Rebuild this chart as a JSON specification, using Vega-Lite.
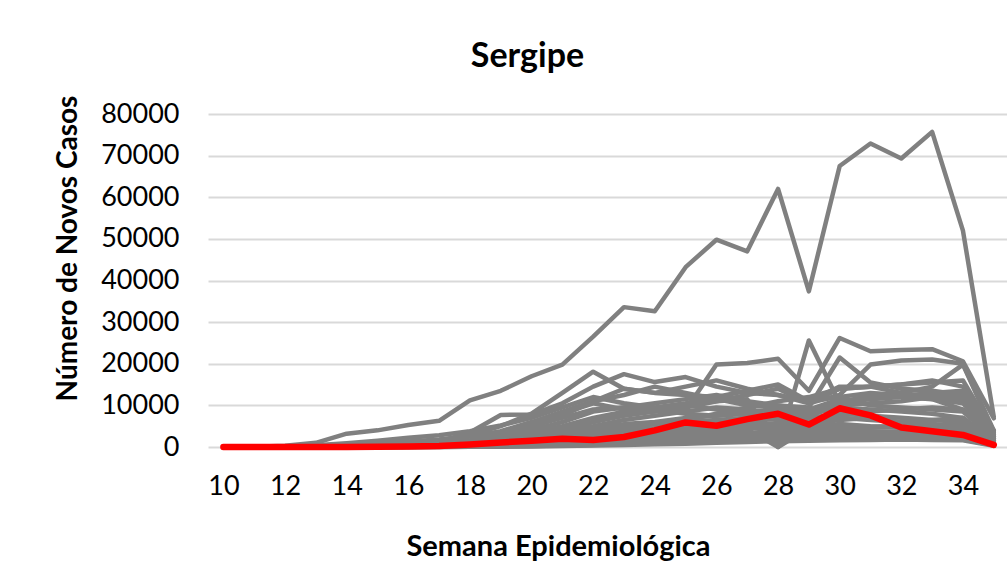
{
"$schema": "https://vega.github.io/schema/vega-lite/v6.json",
"width": 799, "height": 333,
"autosize": {"type": "none"},
"padding": {"left": 208, "top": 114, "right": 0, "bottom": 129},
"background": "white",
"config": {"view": {"stroke": null}, "font": "Lato"},
"title": {"text": "Sergipe", "fontSize": 34, "fontWeight": "bold", "font": "Lato", "color": "#000000", "dx": -80, "offset": 21, "anchor": "middle"},
"datasets": {"d": [
{"s":"g1","w":10,"v":0},{"s":"g1","w":11,"v":50},{"s":"g1","w":12,"v":300},{"s":"g1","w":13,"v":1000},{"s":"g1","w":14,"v":3200},{"s":"g1","w":15,"v":4000},{"s":"g1","w":16,"v":5300},{"s":"g1","w":17,"v":6300},{"s":"g1","w":18,"v":11200},{"s":"g1","w":19,"v":13500},{"s":"g1","w":20,"v":17000},{"s":"g1","w":21,"v":19800},{"s":"g1","w":22,"v":26500},{"s":"g1","w":23,"v":33600},{"s":"g1","w":24,"v":32600},{"s":"g1","w":25,"v":43200},{"s":"g1","w":26,"v":49800},{"s":"g1","w":27,"v":47000},{"s":"g1","w":28,"v":62000},{"s":"g1","w":29,"v":37400},{"s":"g1","w":30,"v":67500},{"s":"g1","w":31,"v":72900},{"s":"g1","w":32,"v":69300},{"s":"g1","w":33,"v":75700},{"s":"g1","w":34,"v":52000},{"s":"g1","w":35,"v":7300},
{"s":"g2","w":10,"v":0},{"s":"g2","w":11,"v":20},{"s":"g2","w":12,"v":150},{"s":"g2","w":13,"v":400},{"s":"g2","w":14,"v":900},{"s":"g2","w":15,"v":1500},{"s":"g2","w":16,"v":2200},{"s":"g2","w":17,"v":2800},{"s":"g2","w":18,"v":3800},{"s":"g2","w":19,"v":5200},{"s":"g2","w":20,"v":7000},{"s":"g2","w":21,"v":9500},{"s":"g2","w":22,"v":12000},{"s":"g2","w":23,"v":10500},{"s":"g2","w":24,"v":9500},{"s":"g2","w":25,"v":8800},{"s":"g2","w":26,"v":19800},{"s":"g2","w":27,"v":20200},{"s":"g2","w":28,"v":21200},{"s":"g2","w":29,"v":13500},{"s":"g2","w":30,"v":26200},{"s":"g2","w":31,"v":23000},{"s":"g2","w":32,"v":23300},{"s":"g2","w":33,"v":23500},{"s":"g2","w":34,"v":20600},{"s":"g2","w":35,"v":6900},
{"s":"g3","w":10,"v":0},{"s":"g3","w":11,"v":0},{"s":"g3","w":12,"v":50},{"s":"g3","w":13,"v":200},{"s":"g3","w":14,"v":500},{"s":"g3","w":15,"v":900},{"s":"g3","w":16,"v":1300},{"s":"g3","w":17,"v":1800},{"s":"g3","w":18,"v":2600},{"s":"g3","w":19,"v":3500},{"s":"g3","w":20,"v":5000},{"s":"g3","w":21,"v":7000},{"s":"g3","w":22,"v":9000},{"s":"g3","w":23,"v":9500},{"s":"g3","w":24,"v":9000},{"s":"g3","w":25,"v":10000},{"s":"g3","w":26,"v":11000},{"s":"g3","w":27,"v":11500},{"s":"g3","w":28,"v":0},{"s":"g3","w":29,"v":25600},{"s":"g3","w":30,"v":10500},{"s":"g3","w":31,"v":12500},{"s":"g3","w":32,"v":12000},{"s":"g3","w":33,"v":11500},{"s":"g3","w":34,"v":9000},{"s":"g3","w":35,"v":2500},
{"s":"g4","w":10,"v":0},{"s":"g4","w":11,"v":0},{"s":"g4","w":12,"v":30},{"s":"g4","w":13,"v":150},{"s":"g4","w":14,"v":400},{"s":"g4","w":15,"v":700},{"s":"g4","w":16,"v":1100},{"s":"g4","w":17,"v":1600},{"s":"g4","w":18,"v":2500},{"s":"g4","w":19,"v":3800},{"s":"g4","w":20,"v":6000},{"s":"g4","w":21,"v":8500},{"s":"g4","w":22,"v":11000},{"s":"g4","w":23,"v":14000},{"s":"g4","w":24,"v":13000},{"s":"g4","w":25,"v":12500},{"s":"g4","w":26,"v":12000},{"s":"g4","w":27,"v":10500},{"s":"g4","w":28,"v":10000},{"s":"g4","w":29,"v":9500},{"s":"g4","w":30,"v":21500},{"s":"g4","w":31,"v":15500},{"s":"g4","w":32,"v":14000},{"s":"g4","w":33,"v":13500},{"s":"g4","w":34,"v":12500},{"s":"g4","w":35,"v":3000},
{"s":"g5","w":10,"v":0},{"s":"g5","w":11,"v":0},{"s":"g5","w":12,"v":20},{"s":"g5","w":13,"v":100},{"s":"g5","w":14,"v":200},{"s":"g5","w":15,"v":400},{"s":"g5","w":16,"v":700},{"s":"g5","w":17,"v":1000},{"s":"g5","w":18,"v":1500},{"s":"g5","w":19,"v":2200},{"s":"g5","w":20,"v":3200},{"s":"g5","w":21,"v":4500},{"s":"g5","w":22,"v":6000},{"s":"g5","w":23,"v":7500},{"s":"g5","w":24,"v":8500},{"s":"g5","w":25,"v":9500},{"s":"g5","w":26,"v":11000},{"s":"g5","w":27,"v":12500},{"s":"g5","w":28,"v":14000},{"s":"g5","w":29,"v":10500},{"s":"g5","w":30,"v":12500},{"s":"g5","w":31,"v":19800},{"s":"g5","w":32,"v":20800},{"s":"g5","w":33,"v":21000},{"s":"g5","w":34,"v":20000},{"s":"g5","w":35,"v":4000},
{"s":"g6","w":10,"v":0},{"s":"g6","w":11,"v":0},{"s":"g6","w":12,"v":10},{"s":"g6","w":13,"v":50},{"s":"g6","w":14,"v":150},{"s":"g6","w":15,"v":300},{"s":"g6","w":16,"v":500},{"s":"g6","w":17,"v":800},{"s":"g6","w":18,"v":1200},{"s":"g6","w":19,"v":1800},{"s":"g6","w":20,"v":2800},{"s":"g6","w":21,"v":4200},{"s":"g6","w":22,"v":6000},{"s":"g6","w":23,"v":8000},{"s":"g6","w":24,"v":9500},{"s":"g6","w":25,"v":10500},{"s":"g6","w":26,"v":12000},{"s":"g6","w":27,"v":13500},{"s":"g6","w":28,"v":15000},{"s":"g6","w":29,"v":11000},{"s":"g6","w":30,"v":14500},{"s":"g6","w":31,"v":14500},{"s":"g6","w":32,"v":13000},{"s":"g6","w":33,"v":14500},{"s":"g6","w":34,"v":19800},{"s":"g6","w":35,"v":3500},
{"s":"g7","w":10,"v":0},{"s":"g7","w":11,"v":0},{"s":"g7","w":12,"v":20},{"s":"g7","w":13,"v":100},{"s":"g7","w":14,"v":300},{"s":"g7","w":15,"v":600},{"s":"g7","w":16,"v":1000},{"s":"g7","w":17,"v":1600},{"s":"g7","w":18,"v":2800},{"s":"g7","w":19,"v":5000},{"s":"g7","w":20,"v":8000},{"s":"g7","w":21,"v":13000},{"s":"g7","w":22,"v":18100},{"s":"g7","w":23,"v":14000},{"s":"g7","w":24,"v":13000},{"s":"g7","w":25,"v":14500},{"s":"g7","w":26,"v":16000},{"s":"g7","w":27,"v":14000},{"s":"g7","w":28,"v":12500},{"s":"g7","w":29,"v":11000},{"s":"g7","w":30,"v":12000},{"s":"g7","w":31,"v":13000},{"s":"g7","w":32,"v":12500},{"s":"g7","w":33,"v":11500},{"s":"g7","w":34,"v":10500},{"s":"g7","w":35,"v":2500},
{"s":"g8","w":10,"v":0},{"s":"g8","w":11,"v":0},{"s":"g8","w":12,"v":10},{"s":"g8","w":13,"v":80},{"s":"g8","w":14,"v":200},{"s":"g8","w":15,"v":400},{"s":"g8","w":16,"v":700},{"s":"g8","w":17,"v":1200},{"s":"g8","w":18,"v":3500},{"s":"g8","w":19,"v":7700},{"s":"g8","w":20,"v":7800},{"s":"g8","w":21,"v":10500},{"s":"g8","w":22,"v":14500},{"s":"g8","w":23,"v":17500},{"s":"g8","w":24,"v":15600},{"s":"g8","w":25,"v":16800},{"s":"g8","w":26,"v":14500},{"s":"g8","w":27,"v":13000},{"s":"g8","w":28,"v":12500},{"s":"g8","w":29,"v":10500},{"s":"g8","w":30,"v":14000},{"s":"g8","w":31,"v":14500},{"s":"g8","w":32,"v":15000},{"s":"g8","w":33,"v":16000},{"s":"g8","w":34,"v":14500},{"s":"g8","w":35,"v":3000},
{"s":"g9","w":10,"v":0},{"s":"g9","w":11,"v":0},{"s":"g9","w":12,"v":0},{"s":"g9","w":13,"v":50},{"s":"g9","w":14,"v":150},{"s":"g9","w":15,"v":300},{"s":"g9","w":16,"v":500},{"s":"g9","w":17,"v":900},{"s":"g9","w":18,"v":1500},{"s":"g9","w":19,"v":2600},{"s":"g9","w":20,"v":4500},{"s":"g9","w":21,"v":7500},{"s":"g9","w":22,"v":11000},{"s":"g9","w":23,"v":12500},{"s":"g9","w":24,"v":14500},{"s":"g9","w":25,"v":13000},{"s":"g9","w":26,"v":11500},{"s":"g9","w":27,"v":10000},{"s":"g9","w":28,"v":9500},{"s":"g9","w":29,"v":8500},{"s":"g9","w":30,"v":11000},{"s":"g9","w":31,"v":12000},{"s":"g9","w":32,"v":12500},{"s":"g9","w":33,"v":12800},{"s":"g9","w":34,"v":12000},{"s":"g9","w":35,"v":2500},
{"s":"g10","w":10,"v":0},{"s":"g10","w":11,"v":0},{"s":"g10","w":12,"v":0},{"s":"g10","w":13,"v":30},{"s":"g10","w":14,"v":100},{"s":"g10","w":15,"v":250},{"s":"g10","w":16,"v":450},{"s":"g10","w":17,"v":800},{"s":"g10","w":18,"v":1500},{"s":"g10","w":19,"v":3000},{"s":"g10","w":20,"v":5500},{"s":"g10","w":21,"v":8000},{"s":"g10","w":22,"v":10500},{"s":"g10","w":23,"v":9000},{"s":"g10","w":24,"v":8500},{"s":"g10","w":25,"v":10000},{"s":"g10","w":26,"v":9000},{"s":"g10","w":27,"v":8000},{"s":"g10","w":28,"v":8500},{"s":"g10","w":29,"v":7500},{"s":"g10","w":30,"v":10000},{"s":"g10","w":31,"v":10500},{"s":"g10","w":32,"v":11000},{"s":"g10","w":33,"v":12000},{"s":"g10","w":34,"v":11500},{"s":"g10","w":35,"v":2000},
{"s":"g11","w":10,"v":0},{"s":"g11","w":11,"v":0},{"s":"g11","w":12,"v":0},{"s":"g11","w":13,"v":20},{"s":"g11","w":14,"v":80},{"s":"g11","w":15,"v":200},{"s":"g11","w":16,"v":400},{"s":"g11","w":17,"v":700},{"s":"g11","w":18,"v":1300},{"s":"g11","w":19,"v":2300},{"s":"g11","w":20,"v":4000},{"s":"g11","w":21,"v":6000},{"s":"g11","w":22,"v":8500},{"s":"g11","w":23,"v":9500},{"s":"g11","w":24,"v":10500},{"s":"g11","w":25,"v":11500},{"s":"g11","w":26,"v":12500},{"s":"g11","w":27,"v":11000},{"s":"g11","w":28,"v":10000},{"s":"g11","w":29,"v":9000},{"s":"g11","w":30,"v":11500},{"s":"g11","w":31,"v":10000},{"s":"g11","w":32,"v":9500},{"s":"g11","w":33,"v":9000},{"s":"g11","w":34,"v":8500},{"s":"g11","w":35,"v":2000},
{"s":"g12","w":10,"v":0},{"s":"g12","w":11,"v":0},{"s":"g12","w":12,"v":0},{"s":"g12","w":13,"v":10},{"s":"g12","w":14,"v":50},{"s":"g12","w":15,"v":150},{"s":"g12","w":16,"v":300},{"s":"g12","w":17,"v":600},{"s":"g12","w":18,"v":1100},{"s":"g12","w":19,"v":2000},{"s":"g12","w":20,"v":3300},{"s":"g12","w":21,"v":5000},{"s":"g12","w":22,"v":7000},{"s":"g12","w":23,"v":8500},{"s":"g12","w":24,"v":9000},{"s":"g12","w":25,"v":8000},{"s":"g12","w":26,"v":7500},{"s":"g12","w":27,"v":8500},{"s":"g12","w":28,"v":9000},{"s":"g12","w":29,"v":8000},{"s":"g12","w":30,"v":9500},{"s":"g12","w":31,"v":9000},{"s":"g12","w":32,"v":8500},{"s":"g12","w":33,"v":8000},{"s":"g12","w":34,"v":7000},{"s":"g12","w":35,"v":1500},
{"s":"g13","w":10,"v":0},{"s":"g13","w":11,"v":0},{"s":"g13","w":12,"v":0},{"s":"g13","w":13,"v":10},{"s":"g13","w":14,"v":40},{"s":"g13","w":15,"v":100},{"s":"g13","w":16,"v":250},{"s":"g13","w":17,"v":500},{"s":"g13","w":18,"v":900},{"s":"g13","w":19,"v":1500},{"s":"g13","w":20,"v":2600},{"s":"g13","w":21,"v":3800},{"s":"g13","w":22,"v":5000},{"s":"g13","w":23,"v":6500},{"s":"g13","w":24,"v":7500},{"s":"g13","w":25,"v":8500},{"s":"g13","w":26,"v":9500},{"s":"g13","w":27,"v":9000},{"s":"g13","w":28,"v":8000},{"s":"g13","w":29,"v":7000},{"s":"g13","w":30,"v":8000},{"s":"g13","w":31,"v":7500},{"s":"g13","w":32,"v":7000},{"s":"g13","w":33,"v":6500},{"s":"g13","w":34,"v":6000},{"s":"g13","w":35,"v":1500},
{"s":"g14","w":10,"v":0},{"s":"g14","w":11,"v":0},{"s":"g14","w":12,"v":0},{"s":"g14","w":13,"v":0},{"s":"g14","w":14,"v":30},{"s":"g14","w":15,"v":80},{"s":"g14","w":16,"v":200},{"s":"g14","w":17,"v":400},{"s":"g14","w":18,"v":700},{"s":"g14","w":19,"v":1200},{"s":"g14","w":20,"v":2000},{"s":"g14","w":21,"v":3200},{"s":"g14","w":22,"v":4500},{"s":"g14","w":23,"v":5500},{"s":"g14","w":24,"v":6000},{"s":"g14","w":25,"v":7000},{"s":"g14","w":26,"v":7500},{"s":"g14","w":27,"v":8000},{"s":"g14","w":28,"v":7000},{"s":"g14","w":29,"v":6500},{"s":"g14","w":30,"v":7500},{"s":"g14","w":31,"v":8500},{"s":"g14","w":32,"v":9000},{"s":"g14","w":33,"v":9500},{"s":"g14","w":34,"v":9000},{"s":"g14","w":35,"v":2000},
{"s":"g15","w":10,"v":0},{"s":"g15","w":11,"v":0},{"s":"g15","w":12,"v":0},{"s":"g15","w":13,"v":0},{"s":"g15","w":14,"v":20},{"s":"g15","w":15,"v":60},{"s":"g15","w":16,"v":150},{"s":"g15","w":17,"v":300},{"s":"g15","w":18,"v":600},{"s":"g15","w":19,"v":1000},{"s":"g15","w":20,"v":1700},{"s":"g15","w":21,"v":2600},{"s":"g15","w":22,"v":3800},{"s":"g15","w":23,"v":4800},{"s":"g15","w":24,"v":5500},{"s":"g15","w":25,"v":6000},{"s":"g15","w":26,"v":6500},{"s":"g15","w":27,"v":7000},{"s":"g15","w":28,"v":6500},{"s":"g15","w":29,"v":6000},{"s":"g15","w":30,"v":7000},{"s":"g15","w":31,"v":6500},{"s":"g15","w":32,"v":6000},{"s":"g15","w":33,"v":6500},{"s":"g15","w":34,"v":7000},{"s":"g15","w":35,"v":1500},
{"s":"g16","w":10,"v":0},{"s":"g16","w":11,"v":0},{"s":"g16","w":12,"v":0},{"s":"g16","w":13,"v":0},{"s":"g16","w":14,"v":10},{"s":"g16","w":15,"v":40},{"s":"g16","w":16,"v":100},{"s":"g16","w":17,"v":200},{"s":"g16","w":18,"v":400},{"s":"g16","w":19,"v":800},{"s":"g16","w":20,"v":1300},{"s":"g16","w":21,"v":2000},{"s":"g16","w":22,"v":3000},{"s":"g16","w":23,"v":3800},{"s":"g16","w":24,"v":4500},{"s":"g16","w":25,"v":5000},{"s":"g16","w":26,"v":5500},{"s":"g16","w":27,"v":6000},{"s":"g16","w":28,"v":5500},{"s":"g16","w":29,"v":5500},{"s":"g16","w":30,"v":6500},{"s":"g16","w":31,"v":7000},{"s":"g16","w":32,"v":6000},{"s":"g16","w":33,"v":5500},{"s":"g16","w":34,"v":5000},{"s":"g16","w":35,"v":1200},
{"s":"g17","w":10,"v":0},{"s":"g17","w":11,"v":0},{"s":"g17","w":12,"v":0},{"s":"g17","w":13,"v":0},{"s":"g17","w":14,"v":10},{"s":"g17","w":15,"v":30},{"s":"g17","w":16,"v":80},{"s":"g17","w":17,"v":150},{"s":"g17","w":18,"v":300},{"s":"g17","w":19,"v":600},{"s":"g17","w":20,"v":1000},{"s":"g17","w":21,"v":1600},{"s":"g17","w":22,"v":2400},{"s":"g17","w":23,"v":3000},{"s":"g17","w":24,"v":3500},{"s":"g17","w":25,"v":4200},{"s":"g17","w":26,"v":4800},{"s":"g17","w":27,"v":5200},{"s":"g17","w":28,"v":5000},{"s":"g17","w":29,"v":4800},{"s":"g17","w":30,"v":5500},{"s":"g17","w":31,"v":5000},{"s":"g17","w":32,"v":4800},{"s":"g17","w":33,"v":4500},{"s":"g17","w":34,"v":4200},{"s":"g17","w":35,"v":1000},
{"s":"g18","w":10,"v":0},{"s":"g18","w":11,"v":0},{"s":"g18","w":12,"v":0},{"s":"g18","w":13,"v":0},{"s":"g18","w":14,"v":0},{"s":"g18","w":15,"v":20},{"s":"g18","w":16,"v":60},{"s":"g18","w":17,"v":120},{"s":"g18","w":18,"v":250},{"s":"g18","w":19,"v":450},{"s":"g18","w":20,"v":800},{"s":"g18","w":21,"v":1200},{"s":"g18","w":22,"v":1800},{"s":"g18","w":23,"v":2400},{"s":"g18","w":24,"v":2900},{"s":"g18","w":25,"v":3500},{"s":"g18","w":26,"v":4000},{"s":"g18","w":27,"v":4500},{"s":"g18","w":28,"v":4200},{"s":"g18","w":29,"v":4000},{"s":"g18","w":30,"v":4500},{"s":"g18","w":31,"v":4800},{"s":"g18","w":32,"v":5000},{"s":"g18","w":33,"v":5200},{"s":"g18","w":34,"v":5500},{"s":"g18","w":35,"v":1200},
{"s":"g19","w":10,"v":0},{"s":"g19","w":11,"v":0},{"s":"g19","w":12,"v":0},{"s":"g19","w":13,"v":0},{"s":"g19","w":14,"v":0},{"s":"g19","w":15,"v":10},{"s":"g19","w":16,"v":40},{"s":"g19","w":17,"v":90},{"s":"g19","w":18,"v":180},{"s":"g19","w":19,"v":350},{"s":"g19","w":20,"v":600},{"s":"g19","w":21,"v":900},{"s":"g19","w":22,"v":1300},{"s":"g19","w":23,"v":1800},{"s":"g19","w":24,"v":2200},{"s":"g19","w":25,"v":2600},{"s":"g19","w":26,"v":3000},{"s":"g19","w":27,"v":3300},{"s":"g19","w":28,"v":3600},{"s":"g19","w":29,"v":3800},{"s":"g19","w":30,"v":4000},{"s":"g19","w":31,"v":3800},{"s":"g19","w":32,"v":3600},{"s":"g19","w":33,"v":3500},{"s":"g19","w":34,"v":3300},{"s":"g19","w":35,"v":800},
{"s":"g20","w":10,"v":0},{"s":"g20","w":11,"v":0},{"s":"g20","w":12,"v":0},{"s":"g20","w":13,"v":0},{"s":"g20","w":14,"v":0},{"s":"g20","w":15,"v":10},{"s":"g20","w":16,"v":30},{"s":"g20","w":17,"v":60},{"s":"g20","w":18,"v":130},{"s":"g20","w":19,"v":250},{"s":"g20","w":20,"v":450},{"s":"g20","w":21,"v":700},{"s":"g20","w":22,"v":1000},{"s":"g20","w":23,"v":1400},{"s":"g20","w":24,"v":1800},{"s":"g20","w":25,"v":2200},{"s":"g20","w":26,"v":2600},{"s":"g20","w":27,"v":3000},{"s":"g20","w":28,"v":3200},{"s":"g20","w":29,"v":3000},{"s":"g20","w":30,"v":3500},{"s":"g20","w":31,"v":3700},{"s":"g20","w":32,"v":3400},{"s":"g20","w":33,"v":3200},{"s":"g20","w":34,"v":3000},{"s":"g20","w":35,"v":700},
{"s":"g21","w":10,"v":0},{"s":"g21","w":11,"v":0},{"s":"g21","w":12,"v":0},{"s":"g21","w":13,"v":0},{"s":"g21","w":14,"v":0},{"s":"g21","w":15,"v":0},{"s":"g21","w":16,"v":20},{"s":"g21","w":17,"v":40},{"s":"g21","w":18,"v":90},{"s":"g21","w":19,"v":180},{"s":"g21","w":20,"v":330},{"s":"g21","w":21,"v":500},{"s":"g21","w":22,"v":750},{"s":"g21","w":23,"v":1000},{"s":"g21","w":24,"v":1300},{"s":"g21","w":25,"v":1600},{"s":"g21","w":26,"v":1900},{"s":"g21","w":27,"v":2200},{"s":"g21","w":28,"v":2500},{"s":"g21","w":29,"v":2700},{"s":"g21","w":30,"v":2900},{"s":"g21","w":31,"v":2700},{"s":"g21","w":32,"v":2600},{"s":"g21","w":33,"v":2500},{"s":"g21","w":34,"v":2400},{"s":"g21","w":35,"v":600},
{"s":"g22","w":10,"v":0},{"s":"g22","w":11,"v":0},{"s":"g22","w":12,"v":0},{"s":"g22","w":13,"v":0},{"s":"g22","w":14,"v":0},{"s":"g22","w":15,"v":0},{"s":"g22","w":16,"v":10},{"s":"g22","w":17,"v":30},{"s":"g22","w":18,"v":60},{"s":"g22","w":19,"v":120},{"s":"g22","w":20,"v":220},{"s":"g22","w":21,"v":350},{"s":"g22","w":22,"v":500},{"s":"g22","w":23,"v":700},{"s":"g22","w":24,"v":900},{"s":"g22","w":25,"v":1100},{"s":"g22","w":26,"v":1300},{"s":"g22","w":27,"v":1500},{"s":"g22","w":28,"v":1700},{"s":"g22","w":29,"v":1900},{"s":"g22","w":30,"v":2000},{"s":"g22","w":31,"v":2100},{"s":"g22","w":32,"v":2000},{"s":"g22","w":33,"v":1900},{"s":"g22","w":34,"v":1800},{"s":"g22","w":35,"v":400},
{"s":"g23","w":10,"v":0},{"s":"g23","w":11,"v":0},{"s":"g23","w":12,"v":0},{"s":"g23","w":13,"v":0},{"s":"g23","w":14,"v":0},{"s":"g23","w":15,"v":0},{"s":"g23","w":16,"v":10},{"s":"g23","w":17,"v":20},{"s":"g23","w":18,"v":40},{"s":"g23","w":19,"v":80},{"s":"g23","w":20,"v":150},{"s":"g23","w":21,"v":250},{"s":"g23","w":22,"v":350},{"s":"g23","w":23,"v":500},{"s":"g23","w":24,"v":650},{"s":"g23","w":25,"v":800},{"s":"g23","w":26,"v":1000},{"s":"g23","w":27,"v":1200},{"s":"g23","w":28,"v":1400},{"s":"g23","w":29,"v":1500},{"s":"g23","w":30,"v":1600},{"s":"g23","w":31,"v":1700},{"s":"g23","w":32,"v":1800},{"s":"g23","w":33,"v":1700},{"s":"g23","w":34,"v":1600},{"s":"g23","w":35,"v":300},
{"s":"g24","w":10,"v":0},{"s":"g24","w":11,"v":0},{"s":"g24","w":12,"v":0},{"s":"g24","w":13,"v":0},{"s":"g24","w":14,"v":0},{"s":"g24","w":15,"v":20},{"s":"g24","w":16,"v":50},{"s":"g24","w":17,"v":100},{"s":"g24","w":18,"v":200},{"s":"g24","w":19,"v":400},{"s":"g24","w":20,"v":700},{"s":"g24","w":21,"v":1100},{"s":"g24","w":22,"v":1600},{"s":"g24","w":23,"v":2200},{"s":"g24","w":24,"v":2800},{"s":"g24","w":25,"v":3400},{"s":"g24","w":26,"v":3800},{"s":"g24","w":27,"v":4200},{"s":"g24","w":28,"v":0},{"s":"g24","w":29,"v":4500},{"s":"g24","w":30,"v":5000},{"s":"g24","w":31,"v":4800},{"s":"g24","w":32,"v":4600},{"s":"g24","w":33,"v":4400},{"s":"g24","w":34,"v":4200},{"s":"g24","w":35,"v":900},
{"s":"g25","w":10,"v":0},{"s":"g25","w":11,"v":0},{"s":"g25","w":12,"v":0},{"s":"g25","w":13,"v":0},{"s":"g25","w":14,"v":20},{"s":"g25","w":15,"v":60},{"s":"g25","w":16,"v":150},{"s":"g25","w":17,"v":300},{"s":"g25","w":18,"v":550},{"s":"g25","w":19,"v":900},{"s":"g25","w":20,"v":1500},{"s":"g25","w":21,"v":2300},{"s":"g25","w":22,"v":3300},{"s":"g25","w":23,"v":4500},{"s":"g25","w":24,"v":5500},{"s":"g25","w":25,"v":6500},{"s":"g25","w":26,"v":8000},{"s":"g25","w":27,"v":9500},{"s":"g25","w":28,"v":11000},{"s":"g25","w":29,"v":12000},{"s":"g25","w":30,"v":14000},{"s":"g25","w":31,"v":14500},{"s":"g25","w":32,"v":15000},{"s":"g25","w":33,"v":15500},{"s":"g25","w":34,"v":16000},{"s":"g25","w":35,"v":3500},
{"s":"g26","w":10,"v":0},{"s":"g26","w":11,"v":0},{"s":"g26","w":12,"v":0},{"s":"g26","w":13,"v":0},{"s":"g26","w":14,"v":10},{"s":"g26","w":15,"v":40},{"s":"g26","w":16,"v":100},{"s":"g26","w":17,"v":200},{"s":"g26","w":18,"v":400},{"s":"g26","w":19,"v":700},{"s":"g26","w":20,"v":1100},{"s":"g26","w":21,"v":1600},{"s":"g26","w":22,"v":2300},{"s":"g26","w":23,"v":3000},{"s":"g26","w":24,"v":3800},{"s":"g26","w":25,"v":4600},{"s":"g26","w":26,"v":5500},{"s":"g26","w":27,"v":6500},{"s":"g26","w":28,"v":7500},{"s":"g26","w":29,"v":8500},{"s":"g26","w":30,"v":10500},{"s":"g26","w":31,"v":11500},{"s":"g26","w":32,"v":12000},{"s":"g26","w":33,"v":13000},{"s":"g26","w":34,"v":13500},{"s":"g26","w":35,"v":4000},
{"s":"SE","w":10,"v":0},{"s":"SE","w":11,"v":0},{"s":"SE","w":12,"v":0},{"s":"SE","w":13,"v":0},{"s":"SE","w":14,"v":20},{"s":"SE","w":15,"v":50},{"s":"SE","w":16,"v":100},{"s":"SE","w":17,"v":250},{"s":"SE","w":18,"v":600},{"s":"SE","w":19,"v":1100},{"s":"SE","w":20,"v":1500},{"s":"SE","w":21,"v":2000},{"s":"SE","w":22,"v":1700},{"s":"SE","w":23,"v":2400},{"s":"SE","w":24,"v":4000},{"s":"SE","w":25,"v":5900},{"s":"SE","w":26,"v":5100},{"s":"SE","w":27,"v":6700},{"s":"SE","w":28,"v":8000},{"s":"SE","w":29,"v":5400},{"s":"SE","w":30,"v":9300},{"s":"SE","w":31,"v":7600},{"s":"SE","w":32,"v":4700},{"s":"SE","w":33,"v":3800},{"s":"SE","w":34,"v":2900},{"s":"SE","w":35,"v":500}
]},
"data": {"name": "d"},
"encoding": {
  "x": {"field": "w", "type": "quantitative",
        "scale": {"domain": [9.5, 35.43], "nice": false, "zero": false},
        "axis": {"values": [10,12,14,16,18,20,22,24,26,28,30,32,34], "format": "d", "grid": false, "ticks": false, "domain": false,
                 "labelFontSize": 27, "labelPadding": 26, "labelColor": "#000000", "labelFont": "Lato",
                 "title": "Semana Epidemiológica", "titleFont": "Lato", "titleFontSize": 29, "titleFontWeight": "bold", "titleColor": "#000000",
                 "titleX": 350, "titleY": 99, "titleBaseline": "middle", "titleAlign": "center"}},
  "y": {"field": "v", "type": "quantitative",
        "scale": {"domain": [0, 80000], "nice": false},
        "axis": {"values": [0,10000,20000,30000,40000,50000,60000,70000,80000], "format": "d", "grid": true, "gridColor": "#d9d9d9", "gridWidth": 2,
                 "ticks": false, "domain": false, "labelFontSize": 27, "labelPadding": 29, "labelColor": "#000000", "labelFont": "Lato",
                 "title": "Número de Novos Casos", "titleFont": "Lato", "titleFontSize": 28, "titleFontWeight": "bold", "titleColor": "#000000",
                 "titleX": -140, "titleY": 134, "titleAngle": -90, "titleBaseline": "middle", "titleAlign": "center"}}
},
"layer": [
  {"transform": [{"filter": "datum.s !== 'SE'"}],
   "mark": {"type": "line", "color": "#808080", "strokeWidth": 4.5, "strokeJoin": "round", "strokeCap": "round"},
   "encoding": {"detail": {"field": "s", "type": "nominal"}, "order": {"field": "w", "type": "quantitative"}}},
  {"transform": [{"filter": "datum.s === 'SE'"}],
   "mark": {"type": "line", "color": "#ff0000", "strokeWidth": 6.5, "strokeJoin": "round", "strokeCap": "round"},
   "encoding": {"order": {"field": "w", "type": "quantitative"}}}
]
}
